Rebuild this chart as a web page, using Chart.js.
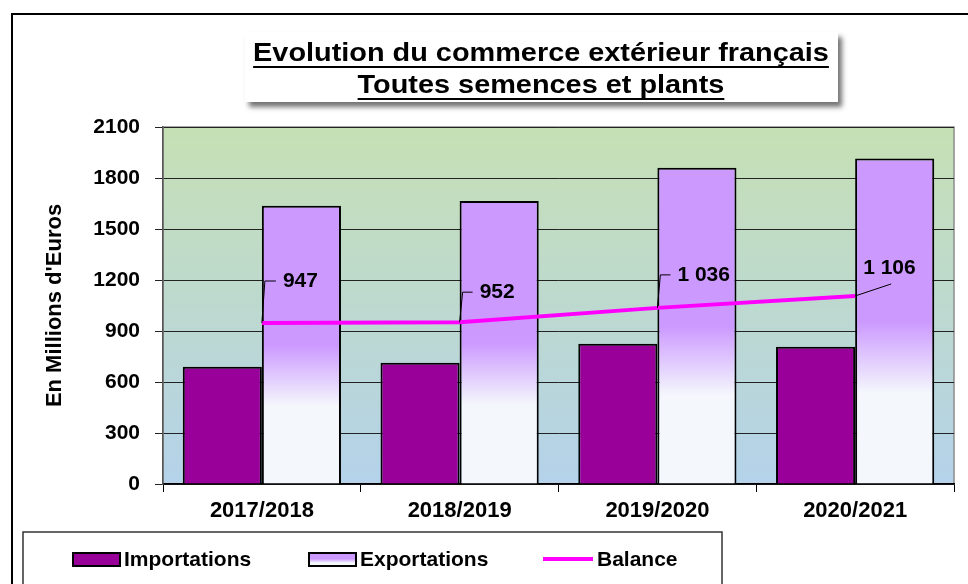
<!DOCTYPE html>
<html>
<head>
<meta charset="utf-8">
<script src="https://cdn.jsdelivr.net/npm/chart.js"></script>
<style>
  body { margin: 0; background: #fff; }
  #wrap { width: 968px; height: 584px; }
</style>
</head>
<body>
<div id="wrap"><canvas id="myChart" width="968" height="584"></canvas></div>
<script>
// donnees (millions d'euros)
const campagnes = ["2017/2018", "2018/2019", "2019/2020", "2020/2021"];
const importations = [690, 713, 825, 808];
const exportations = [1637, 1665, 1861, 1914];
const balance = [947, 952, 1036, 1106];
const yMin = 0;
const yMax = 2100;
const yPas = 300;

const titre = ["Evolution du commerce extérieur français", "Toutes semences et plants"];
const titreAxeY = "En Millions d'Euros";
const nomsSeries = ["Importations", "Exportations", "Balance"];

// decalage des etiquettes de la balance (en px, par rapport au point)
const posEtiquettes = [
    {dx: 21, dy: -42, coude: true},
    {dx: 20, dy: -30, coude: true},
    {dx: 20, dy: -33, coude: true},
    {dx: 8, dy: -28, coude: false}
];

const police = "'Liberation Sans', Arial, sans-serif";
const violet = "#990099";
const lavande = "#cc99ff";
const blanc = "#f4f7fc";

function formatFr(v) {
    return String(v).replace(/\B(?=(\d{3})+(?!\d))/g, " ");
}

function degradeExport(context) {
    const chart = context.chart;
    const area = chart.chartArea;
    if (!area || context.type !== "data") return lavande;
    const y = chart.scales.y;
    const haut = y.getPixelForValue(context.raw);
    const bas = y.getPixelForValue(0);
    const g = chart.ctx.createLinearGradient(0, haut, 0, bas);
    g.addColorStop(0, lavande);
    g.addColorStop(0.5, lavande);
    g.addColorStop(0.72, blanc);
    g.addColorStop(1, blanc);
    return g;
}

const fondPlugin = {
    id: "fond",
    beforeDraw(chart) {
        const {ctx, chartArea: a} = chart;
        ctx.save();
        ctx.fillStyle = "#fff";
        ctx.fillRect(0, 0, chart.width, chart.height);
        // cadre exterieur
        ctx.strokeStyle = "#000";
        ctx.lineWidth = 2;
        ctx.beginPath();
        ctx.moveTo(12, chart.height);
        ctx.lineTo(12, 14);
        ctx.lineTo(chart.width, 14);
        ctx.stroke();
        // zone de traçage en degrade vert -> bleu
        const g = ctx.createLinearGradient(0, a.top, 0, a.bottom);
        g.addColorStop(0, "#c6e0b4");
        g.addColorStop(1, "#b4d2ea");
        ctx.fillStyle = g;
        ctx.fillRect(a.left, a.top, a.right - a.left, a.bottom - a.top);
        ctx.strokeStyle = "#8c8c8c";
        ctx.lineWidth = 1.5;
        ctx.strokeRect(a.left, a.top, a.right - a.left, a.bottom - a.top);
        ctx.restore();
    }
};

const titrePlugin = {
    id: "titreBoite",
    afterDraw(chart) {
        const ctx = chart.ctx;
        ctx.save();
        ctx.shadowColor = "rgba(0,0,0,0.55)";
        ctx.shadowBlur = 5;
        ctx.shadowOffsetX = 4;
        ctx.shadowOffsetY = 5;
        ctx.fillStyle = "#fff";
        ctx.fillRect(245, 32, 593, 70);
        ctx.restore();

        ctx.save();
        ctx.fillStyle = "#000";
        ctx.strokeStyle = "#000";
        ctx.font = "bold 26px " + police;
        ctx.textAlign = "center";
        ctx.textBaseline = "alphabetic";
        const cx = 541;
        const bases = [61, 93];
        titre.forEach((t, i) => {
            const w = ctx.measureText(t).width * 1.11;
            ctx.save();
            ctx.translate(cx, bases[i]);
            ctx.scale(1.11, 1);
            ctx.fillText(t, 0, 0);
            ctx.restore();
            ctx.lineWidth = 2;
            ctx.beginPath();
            ctx.moveTo(cx - w / 2, bases[i] + 6);
            ctx.lineTo(cx + w / 2, bases[i] + 6);
            ctx.stroke();
        });
        ctx.restore();
    }
};

const etiquettesPlugin = {
    id: "etiquettes",
    afterDatasetsDraw(chart) {
        const ctx = chart.ctx;
        const meta = chart.getDatasetMeta(2);
        ctx.save();
        ctx.font = "bold 21px " + police;
        ctx.fillStyle = "#000";
        ctx.strokeStyle = "#000";
        ctx.lineWidth = 1;
        ctx.textAlign = "left";
        ctx.textBaseline = "middle";
        meta.data.forEach((pt, i) => {
            const p = posEtiquettes[i];
            ctx.beginPath();
            if (p.coude) {
                ctx.moveTo(pt.x, pt.y);
                ctx.lineTo(pt.x + 3, pt.y + p.dy);
                ctx.lineTo(pt.x + p.dx - 7, pt.y + p.dy);
            } else {
                ctx.moveTo(pt.x, pt.y);
                ctx.lineTo(pt.x + 36, pt.y - 12);
            }
            ctx.stroke();
            ctx.fillText(formatFr(balance[i]), pt.x + p.dx, pt.y + p.dy);
        });
        ctx.restore();
    }
};

const legendePlugin = {
    id: "legendeBoite",
    afterDraw(chart) {
        const ctx = chart.ctx;
        const ds = chart.data.datasets;
        ctx.save();
        ctx.strokeStyle = "#333";
        ctx.lineWidth = 1.5;
        ctx.strokeRect(23, 532, 699, 80);

        ctx.font = "bold 21px " + police;
        ctx.fillStyle = "#000";
        ctx.textBaseline = "alphabetic";
        ctx.textAlign = "left";

        // importations
        ctx.fillStyle = violet;
        ctx.fillRect(73, 553, 47, 13);
        ctx.lineWidth = 2;
        ctx.strokeStyle = "#000";
        ctx.strokeRect(73, 553, 47, 13);
        ctx.fillStyle = "#000";
        ctx.fillText(ds[0].label, 124, 566);

        // exportations
        const g = ctx.createLinearGradient(0, 553, 0, 566);
        g.addColorStop(0, lavande);
        g.addColorStop(0.45, lavande);
        g.addColorStop(0.75, blanc);
        g.addColorStop(1, blanc);
        ctx.fillStyle = g;
        ctx.fillRect(309, 553, 47, 13);
        ctx.strokeRect(309, 553, 47, 13);
        ctx.fillStyle = "#000";
        ctx.fillText(ds[1].label, 360, 566);

        // balance
        ctx.strokeStyle = "#ff00ff";
        ctx.lineWidth = 4;
        ctx.beginPath();
        ctx.moveTo(543, 559);
        ctx.lineTo(593, 559);
        ctx.stroke();
        ctx.fillText(ds[2].label, 597, 566);
        ctx.restore();
    }
};

const ctx = document.getElementById("myChart");
new Chart(ctx, {
    type: "bar",
    data: {
        labels: campagnes,
        datasets: [
            {
                label: nomsSeries[0],
                data: importations,
                backgroundColor: violet,
                borderColor: "#000",
                borderWidth: 2,
                categoryPercentage: 0.8,
                barPercentage: 1,
                order: 1
            },
            {
                label: nomsSeries[1],
                data: exportations,
                backgroundColor: degradeExport,
                borderColor: "#000",
                borderWidth: 2,
                categoryPercentage: 0.8,
                barPercentage: 1,
                order: 1
            },
            {
                type: "line",
                label: nomsSeries[2],
                data: balance,
                borderColor: "#ff00ff",
                backgroundColor: "#ff00ff",
                borderWidth: 4,
                pointRadius: 0,
                tension: 0,
                order: 0
            }
        ]
    },
    options: {
        responsive: false,
        animation: false,
        layout: {padding: {top: 127, right: 14, left: 0, bottom: 0}},
        plugins: {
            legend: {display: false},
            title: {display: false},
            tooltip: {enabled: false}
        },
        scales: {
            x: {
                afterFit: (s) => { s.height = 100; },
                grid: {
                    display: true,
                    drawOnChartArea: false,
                    offset: true,
                    color: "#000",
                    tickLength: 8
                },
                border: {display: true, color: "#000", width: 1.5},
                ticks: {
                    color: "#000",
                    font: {family: police, size: 22, weight: "bold"},
                    padding: 6,
                    maxRotation: 0
                }
            },
            y: {
                min: yMin,
                max: yMax,
                afterFit: (s) => { s.width = 163; },
                ticks: {
                    stepSize: yPas,
                    color: "#000",
                    font: {family: police, size: 21, weight: "bold"},
                    padding: 15,
                    callback: (v) => String(v)
                },
                grid: {
                    color: "#222",
                    lineWidth: 1,
                    tickLength: 8
                },
                border: {display: true, color: "#555", width: 1.5},
                title: {
                    display: true,
                    text: titreAxeY,
                    color: "#000",
                    font: {family: police, size: 22, weight: "bold"},
                    padding: {top: 42, bottom: 0}
                }
            }
        }
    },
    plugins: [fondPlugin, etiquettesPlugin, titrePlugin, legendePlugin]
});
</script>
</body>
</html>
